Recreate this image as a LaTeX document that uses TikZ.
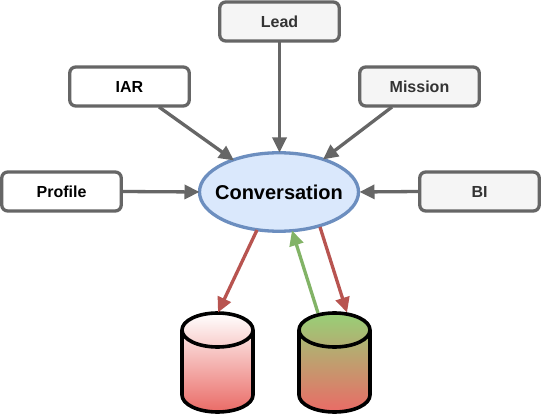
\documentclass[tikz,border=0pt]{standalone}
\usepackage{fontspec}
\setmainfont{Liberation Sans}
\usetikzlibrary{arrows.meta,shapes.geometric}
\definecolor{grayline}{HTML}{666666}
\definecolor{grayfill}{HTML}{F5F5F5}
\definecolor{graytext}{HTML}{333333}
\definecolor{bluefill}{HTML}{DAE8FC}
\definecolor{blueline}{HTML}{6C8EBF}
\definecolor{redline}{HTML}{B85450}
\definecolor{greenline}{HTML}{82B366}
\definecolor{redend}{HTML}{EA6B66}
\definecolor{greenend}{HTML}{97D077}
\tikzset{
  x=1pt,y=-1pt,
  plainbox/.style={draw=grayline,line width=3.3pt,rounded corners=6pt,fill=white,outer sep=0pt,minimum width=119.5pt,minimum height=39pt,inner sep=0pt,font=\bfseries\fontsize{16}{18}\selectfont,text=black},
  greybox/.style={plainbox,fill=grayfill,text=graytext},
  conv/.style={draw=blueline,line width=3.3pt,fill=bluefill,ellipse,outer sep=0pt,minimum width=159pt,minimum height=78.5pt,inner sep=0pt,label={[font=\bfseries\fontsize{20}{24}\selectfont,inner sep=0pt,text=black,yshift=-0.7pt]center:Conversation}},
  link/.style={line width=3.3pt,-{Triangle[length=15pt,width=14pt]}},
  greylink/.style={link,draw=grayline},
  redlink/.style={link,draw=redline},
  greenlink/.style={link,draw=greenline},
  cylbody/.style={line width=3.6pt,draw=black},
}
\begin{document}
\begin{tikzpicture}
\useasboundingbox (0,0) rectangle (541,414);
\fill[white] (0,0) rectangle (541,414);
\node[greybox] (lead) at (279.5,21.5) {Lead};
\node[plainbox] (iar) at (129.5,86.5) {IAR};
\node[greybox] (mission) at (419.5,86.5) {Mission};
\node[plainbox] (profile) at (61.5,191.5) {Profile};
\node[greybox] (bi) at (479.5,191.5) {BI};
\node[conv] (conv) at (279,192) {};
% cylinders
\shade[top color=white,bottom color=redend,draw=none]
  (182,330) arc[start angle=180,end angle=0,x radius=35.5,y radius=-17] -- (253,395)
  arc[start angle=0,end angle=-180,x radius=35.5,y radius=-17] -- cycle;
\draw[cylbody] (182,330) arc[start angle=180,end angle=0,x radius=35.5,y radius=-17] -- (253,395)
  arc[start angle=0,end angle=-180,x radius=35.5,y radius=-17] -- cycle;
\draw[cylbody] (182,330) arc[start angle=180,end angle=360,x radius=35.5,y radius=-17];
\shade[top color=greenend,bottom color=redend,draw=none]
  (299,330) arc[start angle=180,end angle=0,x radius=35.5,y radius=-17] -- (370,395)
  arc[start angle=0,end angle=-180,x radius=35.5,y radius=-17] -- cycle;
\draw[cylbody] (299,330) arc[start angle=180,end angle=0,x radius=35.5,y radius=-17] -- (370,395)
  arc[start angle=0,end angle=-180,x radius=35.5,y radius=-17] -- cycle;
\draw[cylbody] (299,330) arc[start angle=180,end angle=360,x radius=35.5,y radius=-17];
\coordinate (cylaTop) at (218,312.5);
\coordinate (cylbIn) at (347,312.5);
\coordinate (cylbOut) at (318,313);
\coordinate (leadS) at (279.5,42);
\coordinate (leadE) at (279.5,152.5);
\coordinate (iarS) at (159,107);
\coordinate (iarE) at (234,160.5);
\coordinate (misS) at (392,107);
\coordinate (misE) at (323,159.5);
\coordinate (proS) at (122,191.5);
\coordinate (proE) at (199.5,192);
\coordinate (biS) at (419,191.5);
\coordinate (biE) at (359.5,192);
\coordinate (r1S) at (257,230);
\coordinate (r2S) at (320,227);
\coordinate (gE) at (292,230.5);
\draw[greylink] (leadS) -- (leadE);
\draw[greylink] (iarS) -- (iarE);
\draw[greylink] (misS) -- (misE);
\draw[greylink] (proS) -- (proE);
\draw[greylink] (biS) -- (biE);
\draw[redlink] (r1S) -- (cylaTop);
\draw[redlink] (r2S) -- (cylbIn);
\draw[greenlink] (cylbOut) -- (gE);
\end{tikzpicture}
\end{document}
